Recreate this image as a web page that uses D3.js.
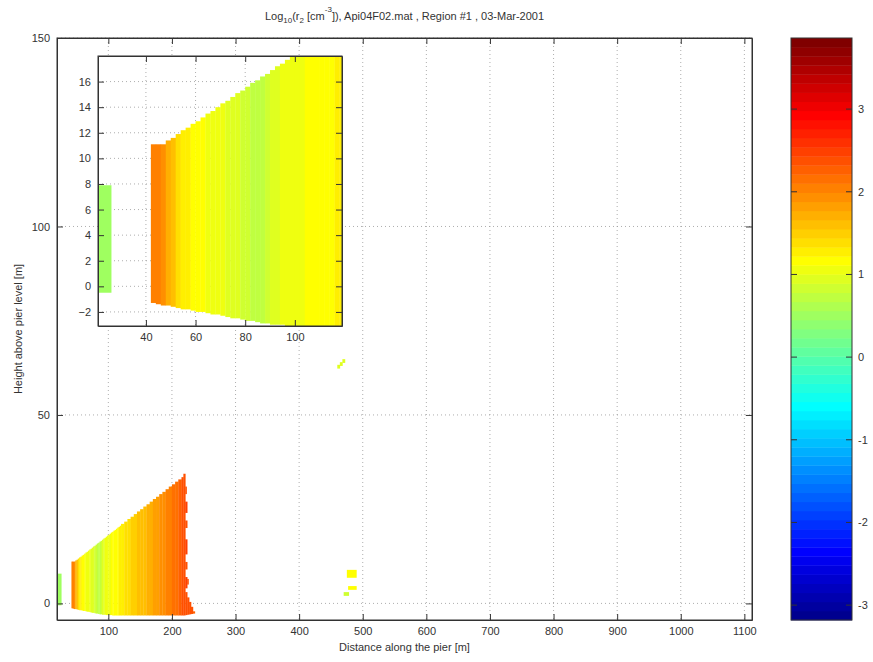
<!DOCTYPE html>
<html><head><meta charset="utf-8">
<script src="https://cdn.jsdelivr.net/npm/d3@7"></script>
<style>body{margin:0;background:#fff}text{font-family:"Liberation Sans",Arial,sans-serif;fill:#333}</style>
</head><body>
<script>
// ---------------- data ----------------
const titleText = ["Log", "10", "(r", "2", " [cm", "-3", "]), Api04F02.mat ,  Region #1 , 03-Mar-2001"];
const xLabel = "Distance along the pier [m]";
const yLabel = "Height above pier level [m]";
const xLim = [19.3, 1112];
const yLim = [-4.4, 150];
const xTicks = [100,200,300,400,500,600,700,800,900,1000,1100];
const yTicks = [0,50,100,150];
const insetXLim = [20.7, 119];
const insetYLim = [-3.1, 18];
const insetXTicks = [40,60,80,100];
const insetYTicks = [-2,0,2,4,6,8,10,12,14,16];
const cLim = [-3.18, 3.86];
const cTicks = [-3,-2,-1,0,1,2,3];

// distance bins of the measured region (m), heights (m), log10 value
const binLo = [20.5,
  42,44,46,48,50,52,54,56,58,60,62,64,66,68,70,72,74,76,78,80,82,84,86,88,90,92,94,96,98,100,102,104,106,108,110,112,114,116,118,
  120,125,130,135,140,145,150,155,160,165,170,175,180,185,190,195,200,205,210,
  215,218,221,224,227,230,233];
const binHi = [26,
  44,46,48,50,52,54,56,58,60,62,64,66,68,70,72,74,76,78,80,82,84,86,88,90,92,94,96,98,100,102,104,106,108,110,112,114,116,118,120,
  125,130,135,140,145,150,155,160,165,170,175,180,185,190,195,200,205,210,215,
  218,221,224,227,230,233,236];
const binTop = [7.9,
  11.1,11.1,11.1,11.4,11.6,11.9,12.2,12.4,12.7,12.9,13.2,13.5,13.7,14.0,14.3,14.5,14.8,15.1,15.3,15.6,
  15.9,16.1,16.4,16.6,16.9,17.2,17.4,17.7,18.0,18.2,18.5,18.8,19.0,19.3,19.5,19.8,20.1,20.3,20.6,
  21.1,21.7,22.4,23.0,23.7,24.4,25.0,25.7,26.3,27.0,27.7,28.3,29.0,29.6,30.3,31.0,31.6,32.3,32.9,
  33.5,34.4,3.0,1.6,0.4,-0.9,-2.1];
const binBottom = [-0.5,
  -1.3,-1.4,-1.5,-1.5,-1.6,-1.7,-1.8,-1.8,-1.9,-2.0,-2.0,-2.1,-2.2,-2.2,-2.3,-2.4,-2.5,-2.5,-2.6,-2.7,
  -2.7,-2.8,-2.9,-2.9,-3.0,-3.0,-3.0,-3.1,-3.1,-3.1,-3.1,-3.1,-3.2,-3.2,-3.2,-3.2,-3.2,-3.2,-3.2,
  -3.2,-3.2,-3.2,-3.2,-3.2,-3.2,-3.2,-3.2,-3.2,-3.2,-3.2,-3.2,-3.2,-3.2,-3.2,-3.2,-3.2,-3.2,-3.2,
  -3.2,-3.2,-3.1,-3.0,-2.9,-2.8,-2.7];
const binValue = [0.55,
  2.0,2.05,1.9,1.75,1.55,1.4,1.3,1.25,1.2,1.15,1.15,1.1,1.1,1.05,1.0,0.95,0.9,0.9,0.85,0.8,
  0.75,0.7,0.75,0.8,0.9,0.95,1.0,1.0,1.05,1.1,1.1,1.15,1.15,1.15,1.2,1.2,1.2,1.25,1.25,
  1.3,1.35,1.4,1.45,1.5,1.55,1.6,1.65,1.7,1.75,1.8,1.85,1.9,1.95,2.0,2.05,2.1,2.2,2.3,
  2.35,2.4,2.4,2.4,2.35,2.35,2.3];

// isolated cells (jagged edge and small echoes near 470 m)
const cellX0 = [221,221,221,221,221,221,224, 460,464,468, 475,477,470];
const cellX1 = [224,224,224,224,224,223,226, 464,468,472, 490,490,478];
const cellY0 = [4,9,13,20,24,29,5, 62.3,63.0,63.8, 6.8,3.6,2.0];
const cellY1 = [7,11,17,22,27,31,6.5, 63.3,64.0,64.8, 8.9,4.6,3.0];
const cellV  = [2.45,2.4,2.45,2.4,2.45,2.4,2.4, 0.9,0.95,0.9, 1.2,1.15,0.8];

// ---------------- colormap (MATLAB jet, 64) ----------------
function jetMap(m){
  const n = Math.ceil(m/4), u = [];
  for(let i=1;i<=n;i++) u.push(i/n);
  for(let i=1;i<n;i++) u.push(1);
  for(let i=n;i>=1;i--) u.push(i/n);
  const R=new Array(m).fill(0),G=new Array(m).fill(0),B=new Array(m).fill(0);
  const off = Math.ceil(n/2) - (m%4===1?1:0);
  u.forEach((val,j)=>{
    const g = off + j + 1, r = g + n, b = g - n;
    if(g>=1&&g<=m) G[g-1]=val;
    if(r>=1&&r<=m) R[r-1]=val;
    if(b>=1&&b<=m) B[b-1]=val;
  });
  return R.map((_,i)=>d3.rgb(R[i]*255,G[i]*255,B[i]*255).formatHex());
}
const jet = jetMap(64);
const colorIdx = d3.scaleQuantize().domain(cLim).range(d3.range(64));
const color = v => jet[colorIdx(Math.max(cLim[0],Math.min(cLim[1]-1e-9,v)))];

const bins = binLo.map((d,i)=>({x0:d,x1:binHi[i],y0:binBottom[i],y1:binTop[i],v:binValue[i]}));
const cells = cellX0.map((d,i)=>({x0:d,x1:cellX1[i],y0:cellY0[i],y1:cellY1[i],v:cellV[i]}));
const allCells = bins.concat(cells);

// ---------------- layout ----------------
const W=873,H=662;
const svg = d3.select("body").append("svg").attr("width",W).attr("height",H);
const M = {l:57,r:752,t:38,b:620};
const I = {l:98,r:342,t:56,b:326};
const C = {l:791,r:852,t:38,b:620};
const lineCol = "#333", gridCol = "#999";
const fmt = d3.format("d");

function panel(box, xd, yd, xt, yt, id){
  const x = d3.scaleLinear().domain(xd).range([box.l,box.r]);
  const y = d3.scaleLinear().domain(yd).range([box.b,box.t]);
  const g = svg.append("g");
  g.append("rect").attr("x",box.l).attr("y",box.t).attr("width",box.r-box.l).attr("height",box.b-box.t).attr("fill","#fff");
  svg.append("clipPath").attr("id",id).append("rect")
    .attr("x",box.l).attr("y",box.t).attr("width",box.r-box.l).attr("height",box.b-box.t);
  g.append("g").selectAll("line").data(xt).join("line")
    .attr("x1",d=>x(d)).attr("x2",d=>x(d)).attr("y1",box.t).attr("y2",box.b)
    .attr("stroke",gridCol).attr("stroke-width",0.8).attr("stroke-dasharray","1,3");
  g.append("g").selectAll("line").data(yt).join("line")
    .attr("y1",d=>y(d)).attr("y2",d=>y(d)).attr("x1",box.l).attr("x2",box.r)
    .attr("stroke",gridCol).attr("stroke-width",0.8).attr("stroke-dasharray","1,3");
  g.append("g").attr("clip-path",`url(#${id})`).selectAll("rect").data(allCells).join("rect")
    .attr("x",d=>x(d.x0)).attr("width",d=>Math.max(0.5,x(d.x1)-x(d.x0))+0.3)
    .attr("y",d=>y(d.y1)).attr("height",d=>Math.max(0.5,y(d.y0)-y(d.y1)))
    .attr("fill",d=>color(d.v));
  const tk = 6;
  const ab = g.append("g").attr("transform",`translate(0,${box.b})`)
    .call(d3.axisBottom(x).tickValues(xt).tickSizeInner(-tk).tickSizeOuter(0).tickPadding(7).tickFormat(fmt));
  const at = g.append("g").attr("transform",`translate(0,${box.t})`)
    .call(d3.axisTop(x).tickValues(xt).tickSizeInner(-tk).tickSizeOuter(0).tickFormat(""));
  const al = g.append("g").attr("transform",`translate(${box.l},0)`)
    .call(d3.axisLeft(y).tickValues(yt).tickSizeInner(-tk).tickSizeOuter(0).tickPadding(7).tickFormat(fmt));
  const ar = g.append("g").attr("transform",`translate(${box.r},0)`)
    .call(d3.axisRight(y).tickValues(yt).tickSizeInner(-tk).tickSizeOuter(0).tickFormat(""));
  [ab,at,al,ar].forEach(a=>{
    a.selectAll("path,line").attr("stroke",lineCol);
    a.selectAll("text").attr("font-size",11).attr("fill","#333")
     .attr("font-family",'"Liberation Sans",Arial,sans-serif');
  });
  g.append("rect").attr("x",box.l).attr("y",box.t).attr("width",box.r-box.l).attr("height",box.b-box.t)
    .attr("fill","none").attr("stroke",lineCol).attr("stroke-width",1);
  return {x,y};
}

panel(M, xLim, yLim, xTicks, yTicks, "clipMain");
panel(I, insetXLim, insetYLim, insetXTicks, insetYTicks, "clipInset");

// ---------------- colorbar ----------------
const cy = d3.scaleLinear().domain(cLim).range([C.b,C.t]);
const step = (cLim[1]-cLim[0])/64;
svg.append("g").selectAll("rect").data(jet).join("rect")
  .attr("x",C.l).attr("width",C.r-C.l)
  .attr("y",(d,i)=>cy(cLim[0]+(i+1)*step)).attr("height",(d,i)=>cy(cLim[0]+i*step)-cy(cLim[0]+(i+1)*step)+0.4)
  .attr("fill",d=>d);
const cg = svg.append("g");
cg.selectAll("line.l").data(cTicks).join("line").attr("class","l")
  .attr("x1",C.l).attr("x2",C.l+6).attr("y1",d=>cy(d)).attr("y2",d=>cy(d)).attr("stroke",lineCol);
cg.selectAll("line.r").data(cTicks).join("line").attr("class","r")
  .attr("x1",C.r-6).attr("x2",C.r).attr("y1",d=>cy(d)).attr("y2",d=>cy(d)).attr("stroke",lineCol);
cg.selectAll("text").data(cTicks).join("text")
  .attr("x",C.r+6).attr("y",d=>cy(d)).attr("dy","0.35em").attr("font-size",11).text(d=>d);
svg.append("rect").attr("x",C.l).attr("y",C.t).attr("width",C.r-C.l).attr("height",C.b-C.t)
  .attr("fill","none").attr("stroke",lineCol);

// ---------------- labels ----------------
const tt = svg.append("text").attr("x",(M.l+M.r)/2).attr("y",20).attr("text-anchor","middle").attr("font-size",11);
titleText.forEach((s,i)=>{
  const sp = tt.append("tspan").text(s);
  if(i===1||i===3){ sp.attr("font-size",8).attr("dy",3); }
  else if(i===5){ sp.attr("font-size",8).attr("dy",-8); }
  else if(i===2||i===4){ sp.attr("dy",-3); }
  else if(i===6){ sp.attr("dy",8); }
});
svg.append("text").attr("x",(M.l+M.r)/2).attr("y",651).attr("text-anchor","middle").attr("font-size",11).text(xLabel);
svg.append("text").attr("transform",`translate(22,${(M.t+M.b)/2}) rotate(-90)`).attr("text-anchor","middle").attr("font-size",11).text(yLabel);
</script>
</body></html>
